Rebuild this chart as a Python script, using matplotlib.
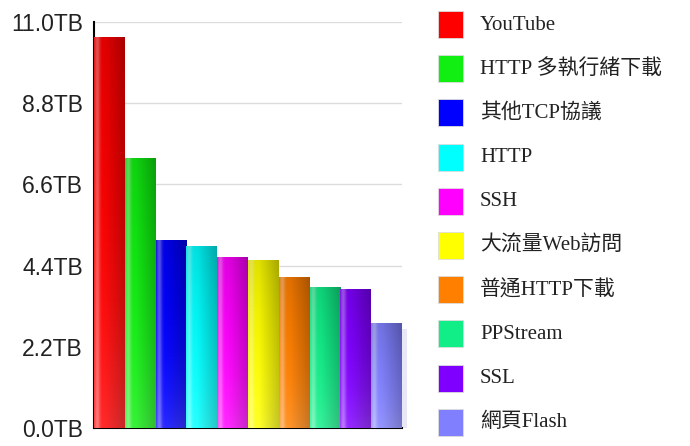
import numpy as np
import matplotlib.pyplot as plt
from matplotlib.colors import to_rgb
from matplotlib.patches import Rectangle

protocols = ['YouTube', 'HTTP 多執行緒下載', '其他TCP協議', 'HTTP', 'SSH',
             '大流量Web訪問', '普通HTTP下載', 'PPStream', 'SSL', '網頁Flash']
traffic_tb = [10.57, 7.29, 5.07, 4.93, 4.63, 4.55, 4.09, 3.82, 3.74, 2.82]
colors = ['#FF0000', '#11EE11', '#0000FF', '#00FFFF', '#FF00FF',
          '#FFFF00', '#FF7F00', '#11EE88', '#7F00FF', '#8080FF']
yticks = [0.0, 2.2, 4.4, 6.6, 8.8, 11.0]


def shaded(color, n=60, m=80):
    base = np.array(to_rgb(color))
    t = np.linspace(0, 1, n)
    v = np.linspace(0, 1, m)[:, None]          # 0 = bottom, 1 = top
    light = 0.35 * np.exp(-((t - 0.1) / 0.09) ** 2)
    dark = 0.22 * np.clip((t - 0.35) / 0.65, 0, 1)
    light = light[None, :] + 0.18 * (1 - v) ** 3
    dark = dark[None, :] + 0.12 * v ** 2
    img = base * (1 - dark[..., None]) + (1 - base) * light[..., None] * 0.9
    img = np.clip(img, 0, 1)
    return img[::-1]


fig = plt.figure(figsize=(6.9, 4.46), dpi=100)
ax = fig.add_axes([94 / 690, 1 - 428 / 446, 308 / 690, 406 / 446])

x = np.arange(len(traffic_tb))
bars = ax.bar(x, traffic_tb, width=1.0, color=colors, zorder=2)
for b, c in zip(bars, colors):
    x0, w, h = b.get_x(), b.get_width(), b.get_height()
    ax.imshow(shaded(c), extent=(x0, x0 + w, 0, h), aspect='auto',
              interpolation='bilinear', zorder=3)
# soft shadow behind the last bar
last = bars[-1]
ax.add_patch(Rectangle((last.get_x() + last.get_width(), 0), 0.15,
                       last.get_height() * 0.95, color='#d0d0ee', alpha=0.5,
                       lw=0, zorder=1, clip_on=False))

ax.set_xlim(-0.5, len(traffic_tb) - 0.5)
ax.set_ylim(0, 11.0)
ax.set_yticks(yticks)
ax.set_yticklabels([f'{v:.1f}TB' for v in yticks], family='Liberation Sans',
                   fontsize=16.5, color='#222222')
ax.set_xticks([])
ax.tick_params(axis='y', length=0, pad=8)
ax.grid(axis='y', color='#dcdcdc', lw=1, zorder=0)
for s in ['top', 'right']:
    ax.spines[s].set_visible(False)
ax.spines['left'].set_color('black')
ax.spines['bottom'].set_color('black')
ax.spines['left'].set_linewidth(1.5)
ax.spines['bottom'].set_linewidth(1.5)
ax.set_axisbelow(True)

# legend drawn by hand to keep rows evenly spaced
W, H = 690, 446
for i, (name, c) in enumerate(zip(protocols, colors)):
    yc = 25 + i * 44.2
    fig.patches.append(Rectangle((438 / W, 1 - (yc + 13) / H), 25 / W, 27 / H,
                                 transform=fig.transFigure, color=c,
                                 ec='#dddddd', lw=0.6))
    fig.text(480 / W, 1 - yc / H, name, va='center', ha='left', fontsize=15,
             family=['Liberation Serif', 'Noto Sans CJK TC'], color='#222222')

fig.savefig('out.png', dpi=100)
